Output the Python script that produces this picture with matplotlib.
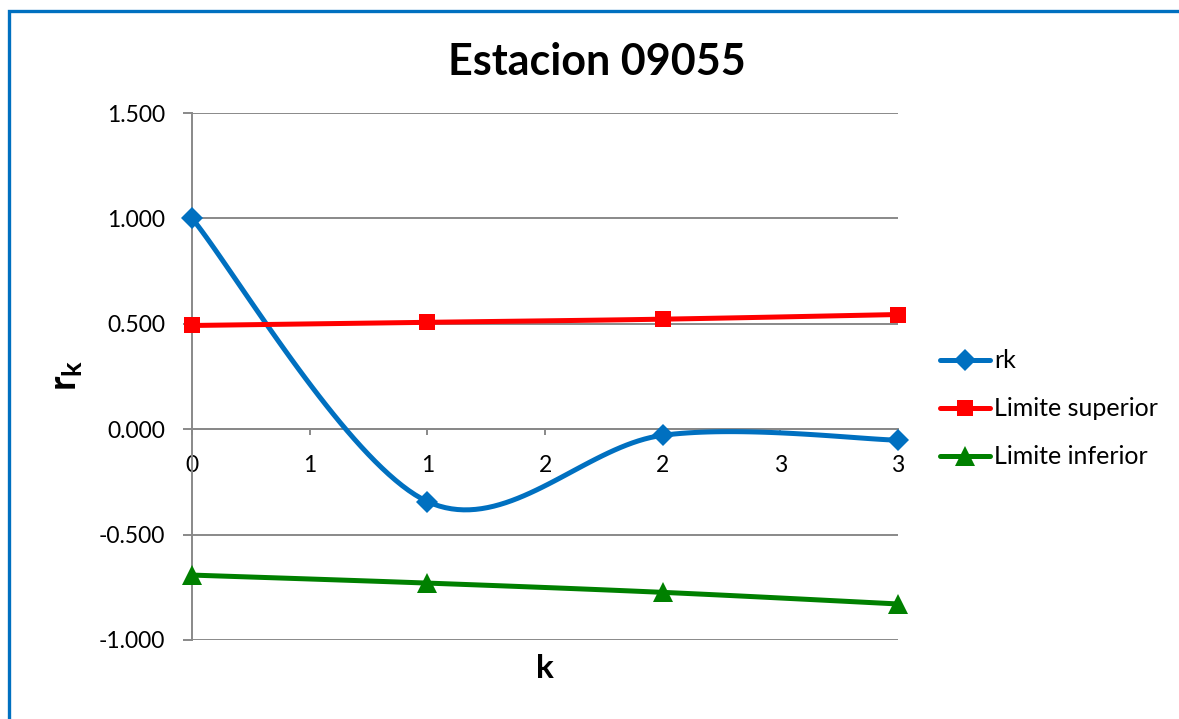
import numpy as np
import matplotlib
matplotlib.use("Agg")
import matplotlib.pyplot as plt
from matplotlib.patches import Rectangle
from matplotlib.ticker import FormatStrFormatter

plt.rcParams["font.family"] = ["Lato", "DejaVu Sans"]
plt.rcParams["mathtext.fontset"] = "custom"
plt.rcParams["mathtext.bf"] = "Lato:bold"
plt.rcParams["mathtext.rm"] = "Lato"

# autocorrelacion por retardo y limites de confianza
lags = [0, 1, 2, 3]
rk = [1.000, -0.343, -0.029, -0.052]
lim_sup = [0.492, 0.507, 0.522, 0.544]
lim_inf = [-0.692, -0.730, -0.774, -0.829]
x_tick_labels = ["0", "1", "1", "2", "2", "3", "3"]

BLUE = "#0070C0"
RED = "#FF0000"
GREEN = "#008000"
GRID = "#898989"


def smooth(xs, ys, n=40):
    # curva suavizada tipo Excel (Bezier cubica con tangentes Catmull-Rom)
    p = np.column_stack([xs, ys]).astype(float)
    pts = np.vstack([p[0], p, p[-1]])
    out = []
    for i in range(1, len(pts) - 2):
        p0, p1, p2, p3 = pts[i - 1], pts[i], pts[i + 1], pts[i + 2]
        c1 = p1 + (p2 - p0) / 6
        c2 = p2 - (p3 - p1) / 6
        t = np.linspace(0, 1, n)[:, None]
        seg = ((1 - t) ** 3) * p1 + 3 * ((1 - t) ** 2) * t * c1 \
            + 3 * (1 - t) * t ** 2 * c2 + t ** 3 * p2
        out.append(seg if i == 1 else seg[1:])
    s = np.vstack(out)
    return s[:, 0], s[:, 1]


fig = plt.figure(figsize=(11.79, 7.19), dpi=100)
ax = fig.add_axes([192 / 1179, 1 - 640 / 719, 706 / 1179, 527 / 719])

series = [
    (rk, BLUE, "D", 11, "rk"),
    (lim_sup, RED, "s", 12, "Limite superior"),
    (lim_inf, GREEN, "^", 14, "Limite inferior"),
]
handles = []
for ys, color, marker, ms, name in series:
    sx, sy = smooth(lags, ys)
    ax.plot(sx, sy, color=color, lw=3.6, solid_capstyle="round", clip_on=False, zorder=3)
    ax.plot(lags, ys, ls="none", marker=marker, ms=ms, color=color,
            markeredgewidth=0, clip_on=False, zorder=4)
    h, = ax.plot([], [], color=color, lw=3.6, marker=marker, ms=ms,
                 markeredgewidth=0, solid_capstyle="round", label=name)
    handles.append(h)

ax.set_xlim(0, 3)
ax.set_ylim(-1.0, 1.5)
ax.set_yticks(np.arange(-1.0, 1.51, 0.5))
ax.yaxis.set_major_formatter(FormatStrFormatter("%.3f"))
ax.set_xticks(np.arange(0, 3.01, 0.5))
ax.set_xticklabels(x_tick_labels)

ax.grid(axis="y", color=GRID, lw=1.4)
ax.set_axisbelow(True)
for s in ["top", "right"]:
    ax.spines[s].set_visible(False)
ax.spines["bottom"].set_position(("data", 0))
ax.spines["left"].set_position(("data", 0))
for s in ["bottom", "left"]:
    ax.spines[s].set_color(GRID)
    ax.spines[s].set_linewidth(1.4)
ax.tick_params(axis="y", length=6.5, width=1.4, color=GRID, pad=13, labelsize=16.5)
ax.tick_params(axis="x", length=4.5, width=1.4, color=GRID, pad=14, labelsize=16.5)

fig.text(597 / 1179, 1 - 62 / 719, "Estacion 09055", ha="center", va="center",
         fontsize=31, fontweight="bold")
fig.text(66 / 1179, 1 - 375 / 719, r"$\mathbf{r_k}$", rotation=90, ha="center",
         va="center", fontsize=28)
fig.text(545 / 1179, 1 - 668 / 719, "k", ha="center", va="center",
         fontsize=24, fontweight="bold")

fig.legend(handles=handles, loc="center left", bbox_to_anchor=(930 / 1179, 1 - 409 / 719),
           frameon=False, fontsize=18, handlelength=2.0, handletextpad=0.15,
           labelspacing=1.0, borderaxespad=0)

fig.patches.append(Rectangle((8.5 / 1179, -0.1), 1.2, 1.1 - 11.5 / 719,
                             transform=fig.transFigure, fill=False,
                             edgecolor=BLUE, lw=2.4))

fig.savefig("out.png", dpi=100, facecolor="white")
